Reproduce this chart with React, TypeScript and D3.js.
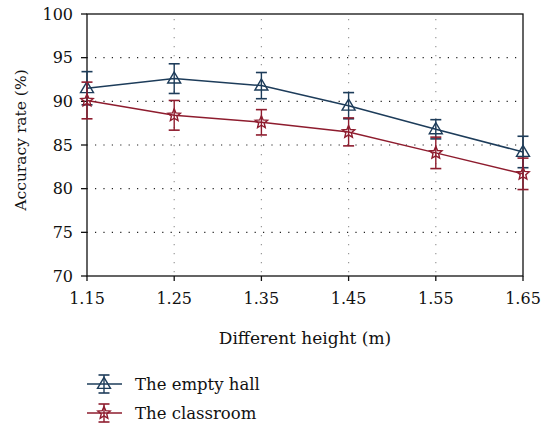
import React from "react";
import * as d3 from "d3";

const heights = [1.15, 1.25, 1.35, 1.45, 1.55, 1.65];
const hallValues = [91.5, 92.6, 91.8, 89.5, 86.8, 84.2];
const hallErrors = [1.9, 1.7, 1.5, 1.5, 1.1, 1.8];
const classValues = [90.1, 88.4, 87.6, 86.5, 84.1, 81.7];
const classErrors = [2.1, 1.7, 1.45, 1.6, 1.8, 1.8];
const yTicks = [70, 75, 80, 85, 90, 95, 100];
const xTickLabels = ["1.15", "1.25", "1.35", "1.45", "1.55", "1.65"];
const seriesNames = ["The empty hall", "The classroom"];

const BLUE = "#1d3c5a";
const RED = "#8e1c2e";
const FONT = '"DejaVu Serif", serif';

function starPath(cx: number, cy: number, r: number) {
  const pts: string[] = [];
  for (let i = 0; i < 10; i++) {
    const rr = i % 2 === 0 ? r : r * 0.45;
    const a = -Math.PI / 2 + (i * Math.PI) / 5;
    pts.push(`${(cx + rr * Math.cos(a)).toFixed(2)},${(cy + rr * Math.sin(a)).toFixed(2)}`);
  }
  return "M" + pts.join("L") + "Z";
}
function triPath(cx: number, cy: number, r: number) {
  const h = r * 1.7;
  return `M${cx},${cy - h * 0.6}L${cx + r},${cy + h * 0.4}L${cx - r},${cy + h * 0.4}Z`;
}

export default function App() {
  const W = 541, H = 430;
  const left = 87, right = 523, top = 14, bottom = 276;
  const x = d3.scaleLinear().domain([1.15, 1.65]).range([left, right]);
  const y = d3.scaleLinear().domain([70, 100]).range([bottom, top]);
  const line = d3.line<number>().x((_, i) => x(heights[i])).y((d) => y(d));

  const series = [
    { vals: hallValues, errs: hallErrors, color: BLUE, marker: "tri" },
    { vals: classValues, errs: classErrors, color: RED, marker: "star" },
  ];

  const txt = (fs: number) => ({ fontFamily: FONT, fontSize: fs, fill: "#111" } as React.CSSProperties);

  const marker = (m: string, cx: number, cy: number, color: string) =>
    m === "tri" ? (
      <path d={triPath(cx, cy, 6.5)} fill="none" stroke={color} strokeWidth={1.4} />
    ) : (
      <path d={starPath(cx, cy, 6.5)} fill="none" stroke={color} strokeWidth={1.4} />
    );

  return (
    <svg width={W} height={H} style={{ position: "absolute", left: 0, top: 0 }}>
      <rect width={W} height={H} fill="#fff" />
      {/* grid */}
      {yTicks.slice(1, -1).map((t) => (
        <line key={"gy" + t} x1={left} x2={right} y1={y(t)} y2={y(t)} stroke="#222" strokeWidth={1.2} strokeDasharray="1.2 7.2" strokeDashoffset={-8} />
      ))}
      {heights.slice(1, -1).map((h) => (
        <line key={"gx" + h} x1={x(h)} x2={x(h)} y1={top} y2={bottom} stroke="#999" strokeWidth={1.2} strokeDasharray="1.2 7.8" strokeDashoffset={-5} />
      ))}
      {/* frame */}
      <rect x={left} y={top} width={right - left} height={bottom - top} fill="none" stroke="#111" strokeWidth={1.3} />
      {/* ticks */}
      {yTicks.map((t) => (
        <g key={"yt" + t}>
          <line x1={left - 6} x2={left} y1={y(t)} y2={y(t)} stroke="#111" strokeWidth={1.3} />
          <text x={left - 14} y={y(t)} dy="0.36em" textAnchor="end" style={txt(16)}>{t}</text>
        </g>
      ))}
      {heights.map((h, i) => (
        <g key={"xt" + h}>
          <line x1={x(h)} x2={x(h)} y1={bottom} y2={bottom + 5} stroke="#111" strokeWidth={1.3} />
          <text x={x(h)} y={bottom + 28} textAnchor="middle" style={txt(16)}>{xTickLabels[i]}</text>
        </g>
      ))}
      <text x={(left + right) / 2} y={344} textAnchor="middle" style={txt(17)}>Different height (m)</text>
      <text transform={`translate(26,140) rotate(-90)`} textAnchor="middle" style={txt(15.5)}>Accuracy rate (%)</text>
      {/* series */}
      {series.map((s, si) => (
        <g key={"s" + si}>
          <path d={line(s.vals) || ""} fill="none" stroke={s.color} strokeWidth={1.5} />
          {s.vals.map((v, i) => {
            const cx = x(heights[i]);
            const y1 = y(v + s.errs[i]);
            const y2 = y(v - s.errs[i]);
            return (
              <g key={i}>
                <line x1={cx} x2={cx} y1={y1} y2={y2} stroke={s.color} strokeWidth={1.4} />
                <line x1={cx - 5.5} x2={cx + 5.5} y1={y1} y2={y1} stroke={s.color} strokeWidth={1.6} />
                <line x1={cx - 5.5} x2={cx + 5.5} y1={y2} y2={y2} stroke={s.color} strokeWidth={1.6} />
                {marker(s.marker, cx, y(v), s.color)}
              </g>
            );
          })}
        </g>
      ))}
      {/* legend */}
      {series.map((s, si) => {
        const ly = 384 + si * 29;
        const lx = 104;
        return (
          <g key={"lg" + si}>
            <line x1={87} x2={122} y1={ly} y2={ly} stroke={s.color} strokeWidth={1.5} />
            <line x1={lx} x2={lx} y1={ly - 9} y2={ly + 9} stroke={s.color} strokeWidth={1.4} />
            <line x1={lx - 5.5} x2={lx + 5.5} y1={ly - 9} y2={ly - 9} stroke={s.color} strokeWidth={1.6} />
            <line x1={lx - 5.5} x2={lx + 5.5} y1={ly + 9} y2={ly + 9} stroke={s.color} strokeWidth={1.6} />
            {marker(s.marker, lx, ly, s.color)}
            <text x={135} y={ly} dy="0.36em" style={txt(16.5)}>{seriesNames[si]}</text>
          </g>
        );
      })}
    </svg>
  );
}
